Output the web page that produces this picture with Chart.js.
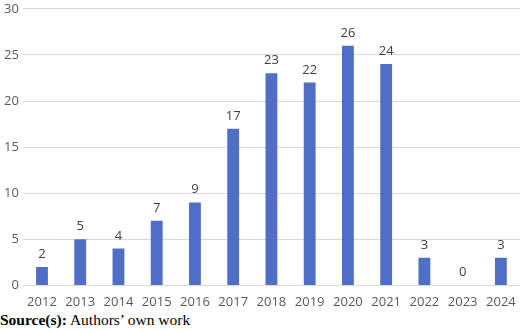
<!DOCTYPE html>
<html>
<head>
<meta charset="utf-8">
<script src="https://cdn.jsdelivr.net/npm/chart.js@4"></script>
<style>
  body { margin: 0; background: #fff; width: 520px; height: 332px; overflow: hidden; position: relative; }
  #wrap { position: absolute; left: 0; top: -3px; width: 520px; height: 314px; }
  #src { position: absolute; left: 0; top: 311px; font-family: "Liberation Serif", "Times New Roman", serif; font-size: 15.5px; color: #000; white-space: nowrap; }
</style>
</head>
<body>
<div id="wrap"><canvas id="myChart"></canvas></div>
<div id="src"><b>Source(s):</b> Authors’ own work</div>
<script>
var years = ['2012', '2013', '2014', '2015', '2016', '2017', '2018', '2019', '2020', '2021', '2022', '2023', '2024'];
var counts = [2, 5, 4, 7, 9, 17, 23, 22, 26, 24, 3, 0, 3];
var yTicks = [0, 5, 10, 15, 20, 25, 30];

var labelFont = '"Open Sans", "Liberation Sans", sans-serif';

// draws the value above each bar
var valueLabels = {
  id: 'valueLabels',
  afterDatasetsDraw: function (chart) {
    var ctx = chart.ctx;
    var meta = chart.getDatasetMeta(0);
    ctx.save();
    ctx.font = '13px ' + labelFont;
    ctx.fillStyle = '#404040';
    ctx.textAlign = 'center';
    ctx.textBaseline = 'alphabetic';
    meta.data.forEach(function (bar, i) {
      ctx.fillText(String(counts[i]), bar.x, bar.y - 9);
    });
    ctx.restore();
  }
};

var ctx = document.getElementById('myChart');
var myChart = new Chart(ctx, {
  type: 'bar',
  data: {
    labels: years,
    datasets: [{
      data: counts,
      backgroundColor: '#4f6fc6',
      borderColor: '#4f6fc6',
      barPercentage: 0.62,
      categoryPercentage: 0.5
    }]
  },
  options: {
    responsive: true,
    maintainAspectRatio: false,
    animation: false,
    layout: { padding: { top: 0, right: 0, left: 0, bottom: 0 } },
    plugins: {
      legend: { display: false },
      tooltip: { enabled: false }
    },
    scales: {
      x: {
        grid: { display: false },
        border: { display: false },
        ticks: { color: '#595959', font: { family: labelFont, size: 13 }, padding: 1, maxRotation: 0 }
      },
      y: {
        min: 0,
        max: 30,
        afterBuildTicks: function (axis) {
          axis.ticks = yTicks.map(function (v) { return { value: v }; });
        },
        grid: { color: '#d9d9d9', lineWidth: 1, drawTicks: false },
        border: { display: false },
        ticks: { color: '#595959', font: { family: labelFont, size: 13 }, padding: 4 }
      }
    }
  },
  plugins: [valueLabels]
});
</script>
</body>
</html>
